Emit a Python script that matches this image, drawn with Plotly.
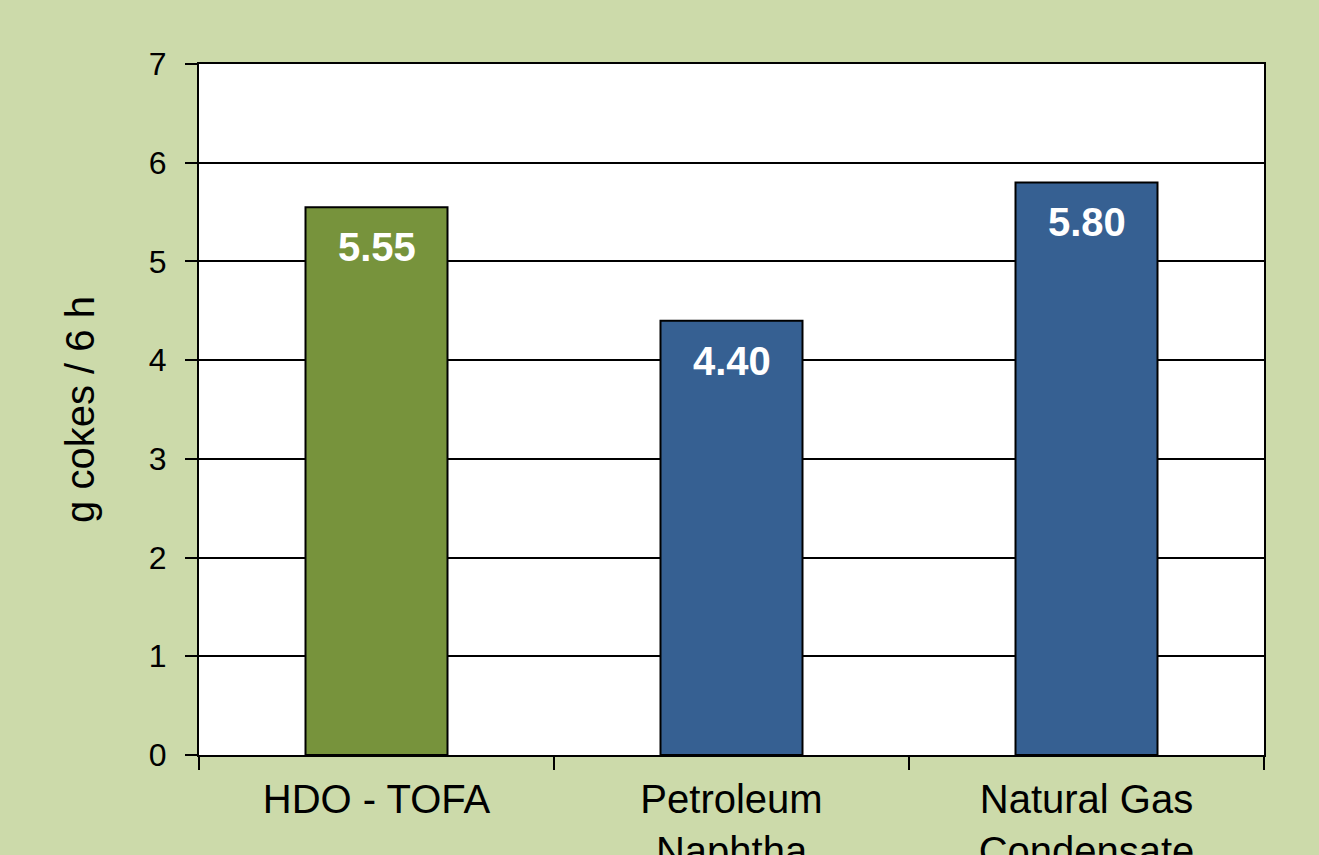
import plotly.graph_objects as go

categories = ["HDO - TOFA", "Petroleum<br>Naphtha", "Natural Gas<br>Condensate"]
values = [5.55, 4.40, 5.80]
bar_colors = ["#77933C", "#366092", "#366092"]
value_labels = ["5.55", "4.40", "5.80"]
y_title = "g cokes / 6 h"

FONT = "Liberation Sans, Arial, sans-serif"

fig = go.Figure()
fig.add_trace(go.Bar(
    x=categories, y=values,
    marker=dict(color=bar_colors, line=dict(color="black", width=2)),
    width=0.4, showlegend=False, hoverinfo="x+y",
))

for c, v, t in zip(categories, values, value_labels):
    fig.add_annotation(
        x=c, y=v, text="<b>" + t + "</b>", showarrow=False,
        yanchor="top", yshift=-16,
        font=dict(family=FONT, size=40, color="white"),
    )

fig.update_layout(
    width=1319, height=855,
    margin=dict(l=199, r=55, t=64, b=100),
    paper_bgcolor="#CCDAAA",
    plot_bgcolor="white",
    font=dict(family=FONT, size=32, color="black"),
    bargap=0.6,
)
fig.update_xaxes(
    type="category", automargin=False,
    showline=True, linecolor="black", linewidth=2, mirror=True,
    ticks="outside", tickson="boundaries", ticklen=13, tickwidth=2, tickcolor="black",
    ticklabelstandoff=8,
    tickfont=dict(family=FONT, size=40, color="black"),
    showgrid=False,
)
fig.update_yaxes(
    range=[0, 7], dtick=1, tick0=0, automargin=False,
    showline=True, linecolor="black", linewidth=2, mirror=True,
    ticks="outside", ticklen=12, tickwidth=2, tickcolor="black",
    ticklabelstandoff=12,
    tickfont=dict(family=FONT, size=32, color="black"),
    showgrid=True, gridcolor="black", gridwidth=2,
    zeroline=False,
    title=dict(text=y_title, font=dict(family=FONT, size=40, color="black"), standoff=42),
)

fig.write_html("out.html")
